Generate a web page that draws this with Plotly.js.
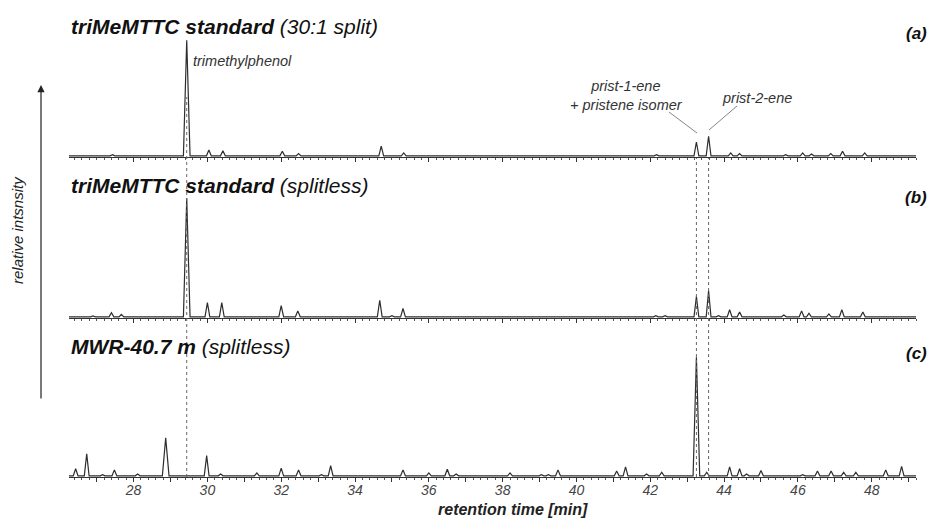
<!DOCTYPE html>
<html>
<head>
<meta charset="utf-8">
<script src="https://cdn.plot.ly/plotly-3.0.1.min.js"></script>
<style>html,body{margin:0;padding:0;background:#fff;}#chart{width:934px;height:518px;}</style>
</head>
<body>
<div id="chart"></div>
<script>
// ---- data ----
const peakTimesA   = [27.43, 29.44, 30.04, 30.42, 32.03, 32.47, 34.71, 35.32, 42.17, 43.25, 43.58, 44.18, 44.42, 45.67, 46.13, 46.37, 46.89, 47.21, 47.81];
const peakHeightsA = [0.01, 1.0, 0.05, 0.045, 0.04, 0.02, 0.085, 0.025, 0.01, 0.12, 0.17, 0.025, 0.02, 0.01, 0.025, 0.015, 0.02, 0.04, 0.025];

const peakTimesB   = [26.9, 27.40, 27.67, 29.44, 30.0, 30.39, 32.0, 32.45, 34.67, 35.0, 35.3, 42.15, 42.4, 43.25, 43.58, 43.85, 44.15, 44.42, 45.62, 46.1, 46.3, 46.84, 47.19, 47.76];
const peakHeightsB = [0.008, 0.035, 0.02, 1.0, 0.12, 0.12, 0.095, 0.05, 0.14, 0.01, 0.07, 0.01, 0.01, 0.17, 0.22, 0.01, 0.06, 0.04, 0.015, 0.05, 0.03, 0.025, 0.06, 0.04];

const peakTimesC   = [26.43, 26.73, 27.16, 27.48, 28.11, 28.87, 29.98, 30.36, 31.34, 32.0, 32.47, 33.09, 33.34, 35.3, 36.0, 36.5, 36.74, 38.2, 39.05, 39.24, 39.5, 41.09, 41.33, 41.9, 42.31, 43.25, 43.53, 44.15, 44.42, 44.61, 45.0, 46.13, 46.53, 46.9, 47.24, 47.57, 48.38, 48.81];
const peakHeightsC = [0.06, 0.185, 0.01, 0.05, 0.015, 0.32, 0.17, 0.015, 0.025, 0.065, 0.05, 0.01, 0.085, 0.05, 0.025, 0.055, 0.015, 0.025, 0.01, 0.01, 0.05, 0.04, 0.075, 0.015, 0.03, 1.0, 0.03, 0.075, 0.06, 0.015, 0.045, 0.01, 0.04, 0.04, 0.03, 0.03, 0.05, 0.08];

const markedTimes = [29.44, 43.25, 43.58];   // dotted guide lines
const timeRange = [26.25, 49.2];
const majorTickVals = [27, 28, 29, 30, 31, 32, 33, 34, 35, 36, 37, 38, 39, 40, 41, 42, 43, 44, 45, 46, 47, 48, 49];
const majorTickText = ['', '28', '', '30', '', '32', '', '34', '', '36', '', '38', '', '40', '', '42', '', '44', '', '46', '', '48', ''];

const panelTitles = [
  '<b><i>triMeMTTC standard</i></b><i> (30:1 split)</i>',
  '<b><i>triMeMTTC standard</i></b><i> (splitless)</i>',
  '<b><i>MWR-40.7 m</i></b><i> (splitless)</i>'
];
const panelLabels = ['(a)', '(b)', '(c)'];

// ---- build peak traces ----
function peakLine(times, heights) {
  const xs = [timeRange[0]], ys = [0];
  times.forEach((t, i) => {
    const h = heights[i];
    const w = h > 0.3 ? 0.09 : 0.065;
    xs.push(t - w, t, t + w);
    ys.push(0, h, 0);
  });
  xs.push(timeRange[1]); ys.push(0);
  return {x: xs, y: ys};
}

const FONT = 'Liberation Sans, Arial, Helvetica, sans-serif';
const lineStyle = {color: '#2e2e2e', width: 1.2};
const sets = [[peakTimesA, peakHeightsA, 'x', 'y'], [peakTimesB, peakHeightsB, 'x2', 'y2'], [peakTimesC, peakHeightsC, 'x3', 'y3']];
const traces = sets.map(s => {
  const p = peakLine(s[0], s[1]);
  return {x: p.x, y: p.y, xaxis: s[2], yaxis: s[3], type: 'scatter', mode: 'lines', line: lineStyle, hoverinfo: 'skip', showlegend: false};
});

function xAxis(anchor, labels) {
  return {
    anchor: anchor, range: timeRange, tickmode: 'array', tickvals: majorTickVals, ticktext: majorTickText,
    ticks: 'outside', ticklen: 4, tickwidth: 1, tickcolor: '#333',
    showline: true, linecolor: '#333', linewidth: 1.2, showgrid: false, zeroline: false,
    showticklabels: labels, ticklabelstandoff: -4,
    tickfont: {family: FONT, size: 14, style: 'italic', color: '#444'},
    minor: {dtick: 0.2, tick0: 0, ticks: 'outside', ticklen: 2, tickcolor: '#555', showgrid: false}
  };
}
function yAxis(domain) {
  return {domain: domain, range: [-0.01, 1.02], visible: false, fixedrange: true};
}

// paper helpers (plot area: x 69..916 px, y 10..477 px)
const px = v => (v - 69) / 847;
const py = v => (477 - v) / 467;

const shapes = [];
markedTimes.forEach((t, i) => {
  shapes.push({type: 'line', xref: 'x3', yref: 'paper', x0: t, x1: t, y0: 0, y1: i === 0 ? py(97) : py(158),
    line: {color: '#666', width: 1, dash: 'dot'}});
});
shapes.push({type: 'line', xref: 'paper', yref: 'paper', x0: px(669), y0: py(112), x1: px(697), y1: py(133), line: {color: '#777', width: 0.9}});
shapes.push({type: 'line', xref: 'paper', yref: 'paper', x0: px(737), y0: py(106), x1: px(709), y1: py(130), line: {color: '#777', width: 0.9}});

const titleY = [26, 185, 346];
const labelY = [33, 197, 353];
const annotations = [];
panelTitles.forEach((t, i) => {
  annotations.push({text: t, xref: 'paper', yref: 'paper', x: px(69), y: py(titleY[i]), xanchor: 'left', yanchor: 'middle',
    showarrow: false, font: {family: FONT, size: 21, color: '#111'}});
  annotations.push({text: '<b><i>' + panelLabels[i] + '</i></b>', xref: 'paper', yref: 'paper', x: px(929), y: py(labelY[i]),
    xanchor: 'right', yanchor: 'middle', showarrow: false, font: {family: FONT, size: 17, color: '#111'}});
});
const smallFont = {family: FONT, size: 14.5, color: '#333', style: 'italic'};
annotations.push({text: 'trimethylphenol', xref: 'paper', yref: 'paper', x: px(191), y: py(61), xanchor: 'left', yanchor: 'middle', showarrow: false, font: smallFont});
annotations.push({text: 'prist-1-ene<br>+ pristene isomer', xref: 'paper', yref: 'paper', x: px(626), y: py(95), xanchor: 'center', yanchor: 'middle', showarrow: false, font: smallFont});
annotations.push({text: 'prist-2-ene', xref: 'paper', yref: 'paper', x: px(757), y: py(98), xanchor: 'center', yanchor: 'middle', showarrow: false, font: smallFont});
annotations.push({text: '<i>relative intsnsity</i>', xref: 'paper', yref: 'paper', x: px(17), y: py(230), textangle: -90, xanchor: 'center', yanchor: 'middle', showarrow: false, font: {family: FONT, size: 15, color: '#222'}});
annotations.push({text: '', xref: 'paper', yref: 'paper', x: px(41), y: py(85), ax: 0, ay: 315, showarrow: true, arrowhead: 2, arrowsize: 1.2, arrowwidth: 1.2, arrowcolor: '#222'});
annotations.push({text: '<b><i>retention time [min]</i></b>', xref: 'paper', yref: 'paper', x: px(513), y: py(509), xanchor: 'center', yanchor: 'middle', showarrow: false, font: {family: FONT, size: 16, color: '#222'}});

const layout = {
  width: 934, height: 518,
  margin: {l: 69, r: 18, t: 10, b: 41},
  paper_bgcolor: '#fff', plot_bgcolor: 'rgba(0,0,0,0)',
  showlegend: false,
  xaxis: xAxis('y', false),
  xaxis2: Object.assign(xAxis('y2', false), {matches: 'x'}),
  xaxis3: Object.assign(xAxis('y3', true), {matches: 'x'}),
  yaxis: yAxis([py(157), py(38)]),
  yaxis2: yAxis([py(318), py(196)]),
  yaxis3: yAxis([py(477), py(355)]),
  shapes: shapes,
  annotations: annotations
};

Plotly.newPlot('chart', traces, layout, {displayModeBar: false, staticPlot: true});
</script>
</body>
</html>
